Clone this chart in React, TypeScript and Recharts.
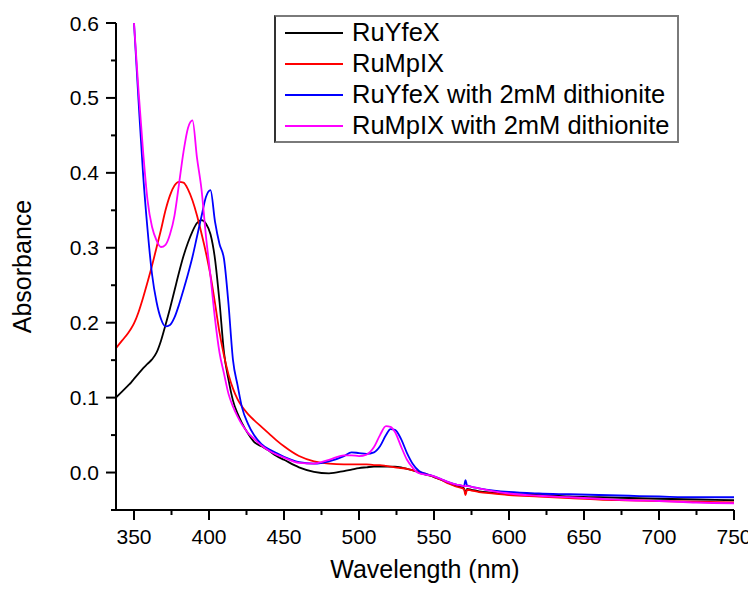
import React from 'react'
import { LineChart, Line, XAxis, YAxis, Legend, Label } from 'recharts'

// wavelength grid (nm) shared by all spectra
const wavelengths = [
  338, 342, 346, 348, 350, 353, 356, 359, 362, 365,
  368, 371, 374, 377, 380, 383, 386, 389, 392, 395,
  398, 401, 404, 407, 410, 413, 416, 419, 422, 426,
  430, 435, 440, 445, 450, 460, 470, 480, 490, 495,
  500, 505, 510, 514, 518, 521, 524, 528, 532, 536,
  540, 545, 550, 555, 560, 565, 570, 571, 572, 575,
  580, 590, 600, 620, 640, 660, 680, 700, 725, 750,
]

const ruYfeX = [
  0.100, 0.108, 0.116, 0.120, 0.125, 0.132, 0.139, 0.145, 0.151, 0.160,
  0.176, 0.197, 0.219, 0.243, 0.267, 0.289, 0.307, 0.322, 0.333, 0.337,
  0.332, 0.318, 0.285, 0.228, 0.160, 0.124, 0.096, 0.079, 0.066, 0.052,
  0.041, 0.035, 0.029, 0.022, 0.017, 0.007, 0.001, -0.001, 0.002, 0.004,
  0.006, 0.007, 0.008, 0.008, 0.008, 0.008, 0.008, 0.007, 0.005, 0.003,
  0.000, -0.003, -0.006, -0.010, -0.014, -0.018, -0.021, -0.028, -0.022, -0.023,
  -0.025, -0.027, -0.029, -0.030, -0.032, -0.033, -0.034, -0.035, -0.036, -0.037,
]

const ruMpIX = [
  0.166, 0.176, 0.186, 0.192, 0.199, 0.214, 0.233, 0.254, 0.276, 0.300,
  0.324, 0.350, 0.370, 0.383, 0.388, 0.387, 0.378, 0.363, 0.343, 0.319,
  0.293, 0.263, 0.226, 0.187, 0.156, 0.131, 0.112, 0.098, 0.088, 0.078,
  0.070, 0.061, 0.052, 0.043, 0.035, 0.022, 0.015, 0.012, 0.011, 0.011,
  0.011, 0.011, 0.010, 0.010, 0.009, 0.008, 0.007, 0.006, 0.005, 0.003,
  0.001, -0.002, -0.006, -0.010, -0.015, -0.019, -0.022, -0.030, -0.023, -0.024,
  -0.026, -0.028, -0.030, -0.032, -0.034, -0.036, -0.037, -0.038, -0.039, -0.040,
]

const ruYfeXDithionite = [
  null, null, null, 0.665, 0.600, 0.497, 0.400, 0.325, 0.265, 0.228,
  0.205, 0.195, 0.197, 0.207, 0.224, 0.244, 0.265, 0.288, 0.315, 0.342,
  0.368, 0.377, 0.335, 0.305, 0.285, 0.225, 0.150, 0.117, 0.087, 0.065,
  0.050, 0.038, 0.031, 0.026, 0.021, 0.014, 0.012, 0.015, 0.022, 0.027,
  0.026, 0.025, 0.027, 0.035, 0.050, 0.058, 0.057, 0.045, 0.026, 0.011,
  0.002, -0.002, -0.005, -0.009, -0.013, -0.016, -0.018, -0.010, -0.017, -0.019,
  -0.021, -0.024, -0.026, -0.028, -0.029, -0.030, -0.031, -0.032, -0.033, -0.033,
]

const ruMpIXDithionite = [
  null, null, null, 0.670, 0.600, 0.510, 0.430, 0.364, 0.328, 0.310,
  0.301, 0.304, 0.318, 0.343, 0.385, 0.428, 0.460, 0.470, 0.420, 0.378,
  0.315, 0.262, 0.205, 0.160, 0.132, 0.105, 0.088, 0.075, 0.064, 0.053,
  0.045, 0.036, 0.029, 0.024, 0.020, 0.013, 0.012, 0.017, 0.023, 0.023,
  0.022, 0.024, 0.034, 0.050, 0.062, 0.061, 0.054, 0.035, 0.017, 0.006,
  -0.001, -0.003, -0.005, -0.009, -0.013, -0.016, -0.018, -0.018, -0.018, -0.019,
  -0.021, -0.025, -0.028, -0.031, -0.033, -0.035, -0.037, -0.038, -0.040, -0.041,
]

const seriesNames = ['RuYfeX', 'RuMpIX', 'RuYfeX with 2mM dithionite', 'RuMpIX with 2mM dithionite']
const seriesColors = ['#000000', '#ff0000', '#0000ff', '#ff00ff']

const xTicks = [350, 375, 400, 425, 450, 475, 500, 525, 550, 575, 600, 625, 650, 675, 700, 725, 750]
const yTicks = [-0.05, 0, 0.05, 0.1, 0.15, 0.2, 0.25, 0.3, 0.35, 0.4, 0.45, 0.5, 0.55, 0.6]

const data = wavelengths.map((w, i) => ({
  w,
  a: ruYfeX[i],
  b: ruMpIX[i],
  c: ruYfeXDithionite[i],
  d: ruMpIXDithionite[i],
}))

const FONT = '"Liberation Sans", Arial, sans-serif'

// tick text sits tickSize + tickMargin away from the axis line
const XTick = ({ x, y, payload }: any) => {
  const major = payload.value % 50 === 0
  const axisY = y - 20
  return (
    <g>
      <line x1={x} x2={x} y1={axisY} y2={axisY + (major ? 10 : 5)} stroke="#000" strokeWidth={2} />
      {major && (
        <text x={x} y={axisY + 34} textAnchor="middle" fontSize={21} fill="#000" fontFamily={FONT}>
          {payload.value}
        </text>
      )}
    </g>
  )
}

const YTick = ({ x, y, payload }: any) => {
  const major = Math.round(payload.value * 100) % 10 === 0
  const axisX = x + 17
  return (
    <g>
      <line x1={axisX} x2={axisX - (major ? 10 : 5)} y1={y} y2={y} stroke="#000" strokeWidth={2} />
      {major && (
        <text x={x} y={y} dy="0.36em" textAnchor="end" fontSize={21} fill="#000" fontFamily={FONT}>
          {payload.value.toFixed(1)}
        </text>
      )}
    </g>
  )
}

const LegendBox = ({ payload }: any) => {
  const items = [...(payload || [])].sort(
    (p: any, q: any) => seriesNames.indexOf(p.value) - seriesNames.indexOf(q.value)
  )
  return (
    <div
      style={{
        width: 405,
        height: 128,
        boxSizing: 'border-box',
        border: '2px solid #7a7a7a',
        borderLeftColor: '#333',
        background: '#fff',
        paddingLeft: 9,
        fontFamily: FONT,
      }}
    >
      {items.map((e: any) => (
        <div key={e.value} style={{ display: 'flex', alignItems: 'center', height: 31 }}>
          <svg width={58} height={4} style={{ display: 'block' }}>
            <line x1={0} x2={58} y1={2} y2={2} stroke={e.color} strokeWidth={2} />
          </svg>
          <span style={{ marginLeft: 9, fontSize: 25.5, lineHeight: '31px', color: '#000', whiteSpace: 'nowrap' }}>
            {e.value}
          </span>
        </div>
      ))}
    </div>
  )
}

export default function App() {
  return (
    <div style={{ fontFamily: FONT }}>
      <LineChart
        width={748}
        height={577}
        data={data}
        margin={{ top: 15, right: 22, left: 0, bottom: 0 }}
        style={{ fontFamily: FONT }}
      >
        <XAxis
          dataKey="w"
          type="number"
          domain={[338, 750]}
          ticks={xTicks}
          interval={0}
          allowDataOverflow
          height={75}
          tickSize={10}
          tickMargin={10}
          tickLine={false}
          axisLine={{ stroke: '#000', strokeWidth: 2 }}
          tick={<XTick />}
        >
          <Label
            value="Wavelength (nm)"
            position="insideBottom"
            offset={7}
            style={{ fontSize: 25, fill: '#000', fontFamily: FONT, textAnchor: 'middle' }}
          />
        </XAxis>
        <YAxis
          type="number"
          domain={[-0.05, 0.6]}
          ticks={yTicks}
          interval={0}
          allowDataOverflow
          width={108}
          tickSize={10}
          tickMargin={7}
          tickLine={false}
          axisLine={{ stroke: '#000', strokeWidth: 2 }}
          tick={<YTick />}
        >
          <Label
            value="Absorbance"
            angle={-90}
            position="insideLeft"
            offset={14}
            style={{ fontSize: 25, fill: '#000', fontFamily: FONT, textAnchor: 'middle' }}
          />
        </YAxis>
        <Legend
          layout="horizontal"
          verticalAlign="middle"
          align="center"
          content={<LegendBox />}
          wrapperStyle={{ position: 'absolute', left: 266, top: 7, width: 405 }}
        />
        <Line name={seriesNames[0]} dataKey="a" type="monotone" stroke={seriesColors[0]} strokeWidth={1.8} dot={false} isAnimationActive={false} />
        <Line name={seriesNames[1]} dataKey="b" type="monotone" stroke={seriesColors[1]} strokeWidth={1.8} dot={false} isAnimationActive={false} />
        <Line name={seriesNames[2]} dataKey="c" type="monotone" stroke={seriesColors[2]} strokeWidth={1.8} dot={false} isAnimationActive={false} />
        <Line name={seriesNames[3]} dataKey="d" type="monotone" stroke={seriesColors[3]} strokeWidth={1.8} dot={false} isAnimationActive={false} />
      </LineChart>
    </div>
  )
}
